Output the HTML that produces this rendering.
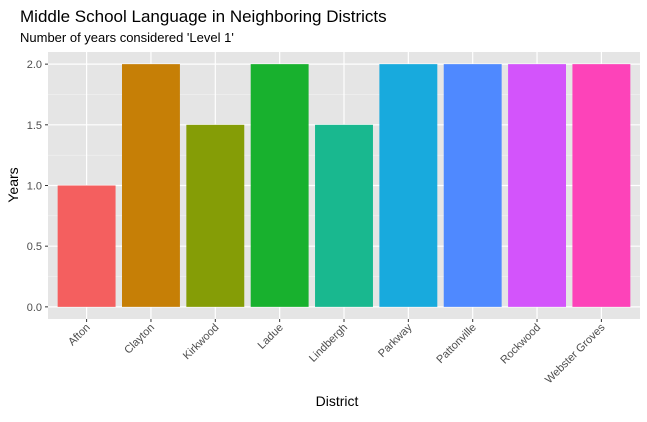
<!DOCTYPE html>
<html><head><meta charset="utf-8"><style>
body{margin:0;background:#fff;font-family:"Liberation Sans",sans-serif}
svg text{font-family:"Liberation Sans",sans-serif}
</style></head><body>
<svg width="647" height="417" xmlns="http://www.w3.org/2000/svg">
<text x="20" y="22" font-size="17" fill="#000">Middle School Language in Neighboring Districts</text>
<text x="20" y="42" font-size="13" fill="#000">Number of years considered 'Level 1'</text>
<rect x="48" y="52" width="592" height="267" fill="#e5e5e5"/>
<g id="grid"></g><g id="bars"></g><g id="axes"></g>
<text x="337" y="406" font-size="14" text-anchor="middle">District</text>
<text transform="translate(18,185) rotate(-90)" font-size="14" text-anchor="middle">Years</text>
</svg>
<script>
const categories=["Afton","Clayton","Kirkwood","Ladue","Lindbergh","Parkway","Pattonville","Rockwood","Webster Groves"];
const values=[1,2,1.5,2,1.5,2,2,2,2];
const colors=["#F45F5F","#C67F06","#859D06","#18B12E","#19B88F","#18AADD","#4F89FF","#D354FB","#FD43B9"];
const yTicks=[0,0.5,1,1.5,2];
const yTickLabels=["0.0","0.5","1.0","1.5","2.0"];
const NS="http://www.w3.org/2000/svg";
const px0=48,pw=592,py0=52,ph=267;
const ymin=-0.1,ymax=2.1;
function y(v){return py0+ph*(ymax-v)/(ymax-ymin);}
const step=pw/(categories.length-1+1.2);
function x(i){return px0+step*(0.6+i);}
function mk(tag,attrs,parent){const e=document.createElementNS(NS,tag);for(const k in attrs)e.setAttribute(k,attrs[k]);parent.appendChild(e);return e;}
const g=document.getElementById('grid'),b=document.getElementById('bars'),a=document.getElementById('axes');
for(let i=0;i<yTicks.length-1;i++){const v=(yTicks[i]+yTicks[i+1])/2;
 const l=mk('line',{x1:px0,x2:px0+pw,y1:y(v),y2:y(v),stroke:'#f2f2f2','stroke-width':0.6},g);
 
 }
yTicks.forEach((v,i)=>{
 const l=mk('line',{x1:px0,x2:px0+pw,y1:y(v),y2:y(v),stroke:'#fff','stroke-width':1.2},g);
 
 
 const t=mk('line',{x1:px0-3,x2:px0,y1:y(v),y2:y(v),stroke:'#333','stroke-width':1},a);
 
 
 const tx=mk('text',{x:px0-6,y:y(v)+4,'font-size':11,'text-anchor':'end',fill:'#4d4d4d'},a);
 tx.textContent=yTickLabels[i];
 
 
});
categories.forEach((c,i)=>{
 const cx=x(i);
 const l=mk('line',{x1:cx,x2:cx,y1:py0,y2:py0+ph,stroke:'#fff','stroke-width':1.2},g);
 
 
 const w=step*0.9;
 const r=mk('rect',{x:cx-w/2,y:y(values[i]),width:w,height:y(0)-y(values[i]),fill:colors[i]},b);
 
 
 const t=mk('line',{x1:cx,x2:cx,y1:py0+ph,y2:py0+ph+3,stroke:'#333','stroke-width':1},a);
 
 
 const tx=mk('text',{transform:`translate(${cx+4},${py0+ph+9}) rotate(-45)`,'font-size':11,'text-anchor':'end',fill:'#4d4d4d'},a);
 tx.textContent=c;
 
 
});
</script>
</body></html>
